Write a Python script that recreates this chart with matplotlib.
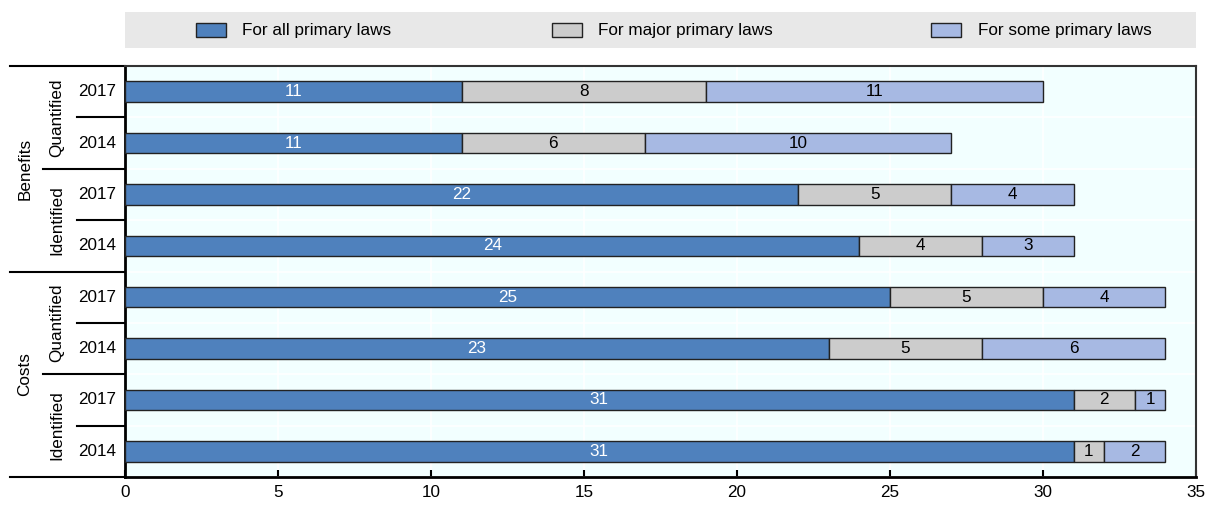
import matplotlib
matplotlib.use("Agg")
import matplotlib.pyplot as plt
from matplotlib.patches import Rectangle
import numpy as np

# data, top row first
groups = ["Benefits", "Costs"]
subgroups = ["Quantified", "Identified", "Quantified", "Identified"]
years = ["2017", "2014", "2017", "2014", "2017", "2014", "2017", "2014"]
series_names = ["For all primary laws", "For major primary laws", "For some primary laws"]
all_laws = [11, 11, 22, 24, 25, 23, 31, 31]
major_laws = [8, 6, 5, 4, 5, 5, 2, 1]
some_laws = [11, 10, 4, 3, 4, 6, 1, 2]
x_ticks = [0, 5, 10, 15, 20, 25, 30, 35]

colors = ["#4F81BD", "#CCCCCC", "#A7B9E3"]
text_colors = ["white", "black", "black"]

plt.rcParams["font.family"] = ["Liberation Sans", "DejaVu Sans"]
fs = 12.3
fs_val = 12.3

fig = plt.figure(figsize=(12.07, 5.08), dpi=100)
ax = fig.add_axes([125 / 1207, 1 - 477 / 508, 1071 / 1207, 411 / 508])
ax.set_facecolor("#F2FFFF")

y = np.arange(len(years))
left = np.zeros(len(years))
for vals, col, tcol in zip([all_laws, major_laws, some_laws], colors, text_colors):
    vals = np.array(vals)
    bars = ax.barh(y, vals, left=left, height=0.4, color=col,
                   edgecolor="#222222", linewidth=1.0, zorder=3)
    ax.bar_label(bars, labels=[str(v) for v in vals], label_type="center",
                 color=tcol, fontsize=fs_val, zorder=4)
    left = left + vals

ax.set_xlim(0, 35)
ax.set_ylim(len(years) - 0.5, -0.5)
ax.set_xticks(x_ticks)
ax.set_xticklabels([str(t) for t in x_ticks], fontsize=fs)
ax.tick_params(axis="x", direction="in", length=5, width=1.5, pad=6)
ax.set_yticks([])
ax.set_yticks(np.arange(-0.5, len(years)), minor=True)
ax.tick_params(axis="y", which="both", length=0)
ax.grid(axis="x", color="white", linewidth=1.2, zorder=0)
ax.grid(axis="y", which="minor", color="white", linewidth=1.2, zorder=0)

for s in ["left", "bottom"]:
    ax.spines[s].set_linewidth(2)
    ax.spines[s].set_color("black")
for s in ["top", "right"]:
    ax.spines[s].set_linewidth(1.5)
    ax.spines[s].set_color("#333333")

# left-side hierarchical labels
tr = ax.get_yaxis_transform()
for i, yr in enumerate(years):
    ax.text(-0.026, i, yr, transform=tr, ha="center", va="center", fontsize=fs)
for i, sg in enumerate(subgroups):
    ax.text(-0.0635, 2 * i + 0.5, sg, transform=tr, ha="center", va="center",
            rotation=90, fontsize=fs)
for i, g in enumerate(groups):
    ax.text(-0.0934, 4 * i + 1.5, g, transform=tr, ha="center", va="center",
            rotation=90, fontsize=fs)

for yy in [0.5, 2.5, 4.5, 6.5]:
    ax.plot([-0.0448, 0], [yy, yy], transform=tr, color="black", lw=1.5, clip_on=False)
for yy in [1.5, 5.5]:
    ax.plot([-0.0766, 0], [yy, yy], transform=tr, color="black", lw=1.5, clip_on=False)
for yy in [-0.5, 3.5, 7.5]:
    ax.plot([-0.1074, 0], [yy, yy], transform=tr, color="black", lw=1.5, clip_on=False)

# legend band
lax = fig.add_axes([125 / 1207, 1 - 48 / 508, 1071 / 1207, 36 / 508])
lax.set_facecolor("#E8E8E8")
lax.set_xlim(0, 1)
lax.set_ylim(0, 1)
lax.set_xticks([])
lax.set_yticks([])
for s in lax.spines.values():
    s.set_visible(False)
patch_x = [0.066, 0.399, 0.753]
for px, col, name in zip(patch_x, colors, series_names):
    lax.add_patch(Rectangle((px, 0.3), 0.028, 0.4, facecolor=col,
                            edgecolor="#222222", linewidth=1.0))
    lax.text(px + 0.043, 0.5, name, ha="left", va="center", fontsize=fs)

fig.savefig("out.png", dpi=100)
